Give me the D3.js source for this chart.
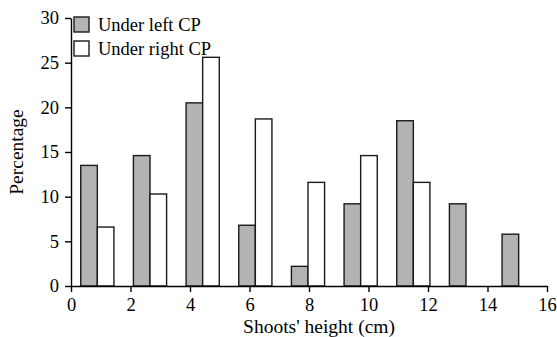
<!DOCTYPE html>
<html>
<head>
<meta charset="utf-8">
<script src="https://cdn.jsdelivr.net/npm/d3@7"></script>
<style>
  body { margin: 0; background: #fff; }
  svg { display: block; font-family: "Liberation Serif", "DejaVu Serif", serif; }
</style>
</head>
<body>
<svg id="chart" width="557" height="337"></svg>
<script>
// Height classes (2 cm bins, drawn as groups)
const groups = ["0-2", "2-4", "4-6", "6-8", "8-10", "10-12", "12-14", "14-16", "16-18"];
const leftCP = [13.5, 14.6, 20.5, 6.8, 2.2, 9.2, 18.5, 9.2, 5.8];
const rightCP = [6.6, 10.3, 25.6, 18.7, 11.6, 14.6, 11.6, 0, 0];
const seriesNames = ["Under left CP", "Under right CP"];
const xTicks = [0, 2, 4, 6, 8, 10, 12, 14, 16];
const yTicks = [0, 5, 10, 15, 20, 25, 30];

const width = 557;
const height = 337;
const margin = { top: 18, right: 10, bottom: 51, left: 71 };
const innerW = 547 - margin.left;
const innerH = 286 - margin.top;

const fillLeft = "#b3b3b3";
const fillRight = "#ffffff";

const svg = d3.select("#chart");
const g = svg.append("g").attr("transform", `translate(${margin.left},${margin.top})`);

const x = d3.scaleLinear().domain([0, 16]).range([0, innerW]);
const y = d3.scaleLinear().domain([0, 30]).range([innerH, 0]);

// Bar groups are placed on their own band scale
const band = d3.scaleBand()
  .domain(groups)
  .range([0, 474])
  .paddingInner(0.37)
  .paddingOuter(0.185);
const sub = d3.scaleBand().domain(seriesNames).range([0, band.bandwidth()]);

const rows = groups.map((k, i) => ({ key: k, values: [leftCP[i], rightCP[i]] }));

const barG = g.append("g")
  .selectAll("g")
  .data(rows)
  .join("g")
  .attr("transform", (d) => `translate(${band(d.key)},0)`);

barG.selectAll("rect")
  .data((d) => d.values.map((v, j) => ({ name: seriesNames[j], v })))
  .join("rect")
  .filter((d) => d.v > 0)
  .attr("x", (d) => sub(d.name))
  .attr("y", (d) => y(d.v))
  .attr("width", sub.bandwidth())
  .attr("height", (d) => y(0) - y(d.v))
  .attr("fill", (d) => (d.name === seriesNames[0] ? fillLeft : fillRight))
  .attr("stroke", "#1a1a1a")
  .attr("stroke-width", 1.4);

// Axes
const xAxis = g.append("g")
  .attr("transform", `translate(0,${innerH})`)
  .call(d3.axisBottom(x).tickValues(xTicks).tickSize(6).tickPadding(6).tickSizeOuter(0));
const yAxis = g.append("g")
  .call(d3.axisLeft(y).tickValues(yTicks).tickSize(6).tickPadding(6).tickSizeOuter(0));

[xAxis, yAxis].forEach((ax) => {
  ax.selectAll("path, line").attr("stroke", "#000").attr("stroke-width", 1.4);
  ax.selectAll("text")
    .attr("fill", "#000")
    .attr("font-size", 18.5)
    .attr("font-family", "Liberation Serif, serif");
});

// Axis titles
svg.append("text")
  .attr("x", 319)
  .attr("y", 333)
  .attr("text-anchor", "middle")
  .attr("font-size", 19.5)
  .text("Shoots' height (cm)");

svg.append("text")
  .attr("transform", `translate(23,${margin.top + innerH / 2}) rotate(-90)`)
  .attr("text-anchor", "middle")
  .attr("font-size", 19.5)
  .text("Percentage");

// Legend
const legend = g.append("g").attr("transform", "translate(3,-1)");
seriesNames.forEach((name, i) => {
  const row = legend.append("g").attr("transform", `translate(0,${i * 24})`);
  row.append("rect")
    .attr("width", 15)
    .attr("height", 15)
    .attr("fill", i === 0 ? fillLeft : fillRight)
    .attr("stroke", "#1a1a1a")
    .attr("stroke-width", 1.4);
  row.append("text")
    .attr("x", 24)
    .attr("y", 13.5)
    .attr("font-size", 18.5)
    .text(name);
});
</script>
</body>
</html>
